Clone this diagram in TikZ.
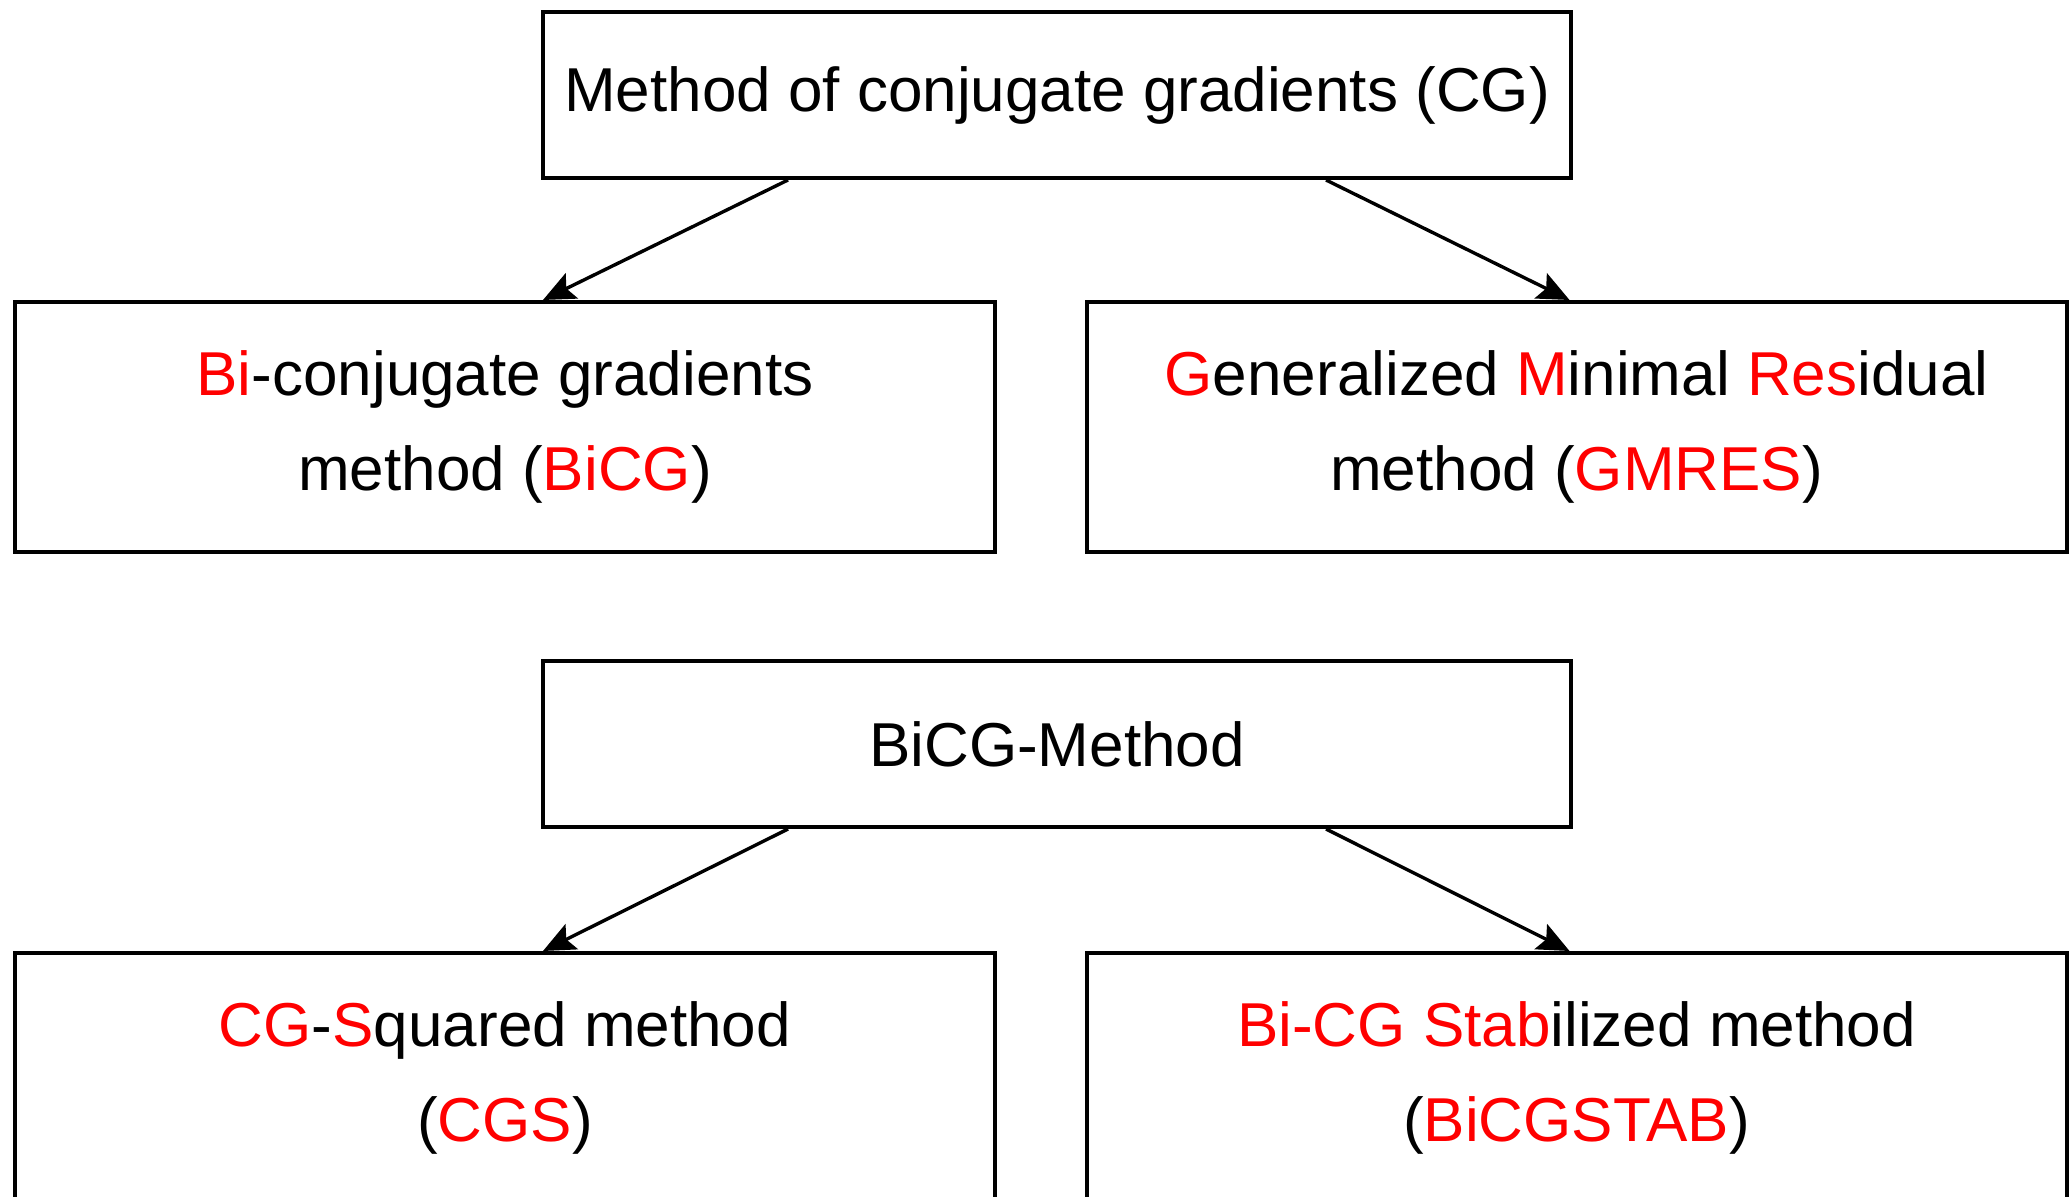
\documentclass[tikz,border=0pt]{standalone}
\usepackage{fontspec}
\setmainfont{Liberation Sans}
\usetikzlibrary{arrows.meta,calc}
\definecolor{hl}{RGB}{255,0,0}
\newcommand{\hlt}[1]{\textcolor{hl}{#1}}
\begin{document}
\begin{tikzpicture}[x=0.5pt,y=-0.5pt,
  box/.style={draw,line width=2pt,inner sep=0pt,align=center,
    font=\fontsize{31}{47.5}\selectfont},
  wide/.style={box,minimum width=514pt,minimum height=83pt},
  tall/.style={box,minimum width=490pt,minimum height=125pt},
  conn/.style={line width=1.7pt,-{Stealth[length=16pt,width=14pt,inset=3pt]}}]
\useasboundingbox (0,0) rectangle (2072,1197);
\node[wide] (cg) at (1057,95) {Method of conjugate gradients (CG)};
\node[tall] (bicg) at (505,427) {\hlt{Bi}-conjugate gradients\\method (\hlt{BiCG})};
\node[tall] (gmres) at (1576.5,427) {\hlt{G}eneralized \hlt{M}inimal \hlt{Res}idual\\method (\hlt{GMRES})};
\node[wide] (bm) at (1057,744) {BiCG-Method};
\node[tall] (cgs) at (505,1078) {\hlt{CG}-\hlt{S}quared method\\(\hlt{CGS})};
\node[tall] (stab) at (1576.5,1078) {\hlt{Bi-CG Stab}ilized method\\(\hlt{BiCGSTAB})};
\draw[conn] ([xshift=-134.5pt]cg.south) -- ([xshift=19pt]bicg.north);
\draw[conn] ([xshift=134.5pt]cg.south) -- ([xshift=-3.5pt]gmres.north);
\draw[conn] ([xshift=-134.5pt]bm.south) -- ([xshift=19pt]cgs.north);
\draw[conn] ([xshift=134.5pt]bm.south) -- ([xshift=-3.5pt]stab.north);
\end{tikzpicture}
\end{document}
